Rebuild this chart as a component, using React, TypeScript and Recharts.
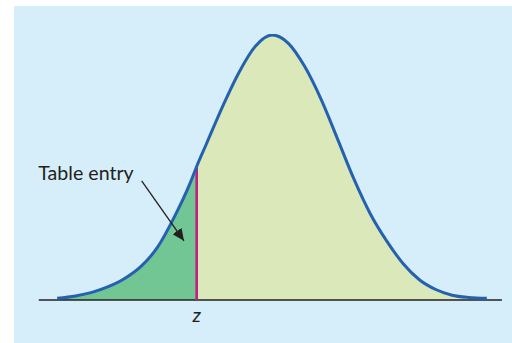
import React from 'react';
import { ComposedChart, Area, Line, XAxis, YAxis, ReferenceLine, ReferenceDot } from 'recharts';

// z positions (standard units) and curve heights
const zValues = [-3.28, -3.0, -2.75, -2.5, -2.25, -2.0, -1.75, -1.5, -1.25, -1.15, -1.0, -0.75, -0.5, -0.25, 0, 0.25, 0.5, 0.75, 1.0, 1.25, 1.5, 1.75, 2.0, 2.25, 2.5, 2.75, 3.0, 3.28];
const density = [0.0025, 0.006, 0.0114, 0.02, 0.0323, 0.0505, 0.079, 0.1232, 0.1758, 0.2008, 0.235, 0.292, 0.343, 0.382, 0.3985, 0.386, 0.351, 0.3017, 0.2424, 0.1821, 0.1298, 0.0889, 0.055, 0.0305, 0.0158, 0.0072, 0.0038, 0.0025];
const zCut = -1.15;
const cutLabel = 'z';
const annotationText = 'Table entry';
const textAnchorPoint = { x: -3.568, y: 0.1805 };
const arrowStart = { x: -1.99, y: 0.179 };
const arrowEnd = { x: -1.344, y: 0.089 };
const baselineExtent = [-3.56, 3.51];

const data = zValues.map((x, i) => ({
  x,
  y: density[i],
  left: x <= zCut ? density[i] : null,
  right: x >= zCut ? density[i] : null,
}));
const cutDensity = density[zValues.indexOf(zCut)];

const INK = '#231F20';
const FONT = 'Lato, "Open Sans", sans-serif';

const renderTableEntry = (props: any) => {
  const vb = props.viewBox || {};
  return (
    <text x={vb.x} y={vb.y} fill={INK} fontFamily={FONT} fontSize={19.6} textAnchor="start">
      {annotationText}
    </text>
  );
};

const renderZ = (props: any) => {
  const vb = props.viewBox || {};
  return (
    <text x={vb.x} y={vb.y + 21.5} fill={INK} fontFamily={FONT} fontSize={20} fontStyle="italic" textAnchor="middle">
      {cutLabel}
    </text>
  );
};

export default function App() {
  return (
    <div style={{ position: 'absolute', left: 0, top: 0, width: 512, height: 343, background: '#ffffff' }}>
      <svg width={0} height={0} style={{ position: 'absolute' }}>
        <defs>
          <marker id="arrowHead" markerWidth={13} markerHeight={11} refX={12} refY={5.5} orient="auto" markerUnits="userSpaceOnUse">
            <path d="M0,0 L12,5.5 L0,11 Z" fill={INK} />
          </marker>
        </defs>
      </svg>
      <div style={{ position: 'absolute', left: 14, top: 6, width: 498, height: 337, background: '#D6EDFA' }} />
      <div style={{ position: 'absolute', left: 0, top: 0 }}>
        <ComposedChart width={512} height={343} data={data} margin={{ top: 34, right: 4.2, bottom: 43, left: 36.2 }}>
          <XAxis type="number" dataKey="x" domain={[-3.6, 3.6]} hide allowDataOverflow />
          <YAxis type="number" domain={[0, 0.4]} hide allowDataOverflow />
          <Area type="monotone" dataKey="left" stroke="none" fill="#71C694" fillOpacity={1} isAnimationActive={false} connectNulls={false} />
          <Area type="monotone" dataKey="right" stroke="none" fill="#DBE8B9" fillOpacity={1} isAnimationActive={false} connectNulls={false} />
          <ReferenceLine segment={[{ x: baselineExtent[0], y: 0 }, { x: baselineExtent[1], y: 0 }]} stroke={INK} strokeWidth={1.6} ifOverflow="visible" />
          <ReferenceLine segment={[{ x: zCut, y: 0 }, { x: zCut, y: cutDensity }]} stroke="#C0207E" strokeWidth={2.6} ifOverflow="visible" />
          <Line type="monotone" dataKey="y" stroke="#2461B0" strokeWidth={3} dot={false} activeDot={false} isAnimationActive={false} />
          <ReferenceLine segment={[arrowStart, arrowEnd]} stroke={INK} strokeWidth={1.3} markerEnd="url(#arrowHead)" ifOverflow="visible" />
          <ReferenceDot x={textAnchorPoint.x} y={textAnchorPoint.y} r={0} fill="none" stroke="none" ifOverflow="visible" label={renderTableEntry} />
          <ReferenceDot x={zCut} y={0} r={0} fill="none" stroke="none" ifOverflow="visible" label={renderZ} />
        </ComposedChart>
      </div>
    </div>
  );
}
